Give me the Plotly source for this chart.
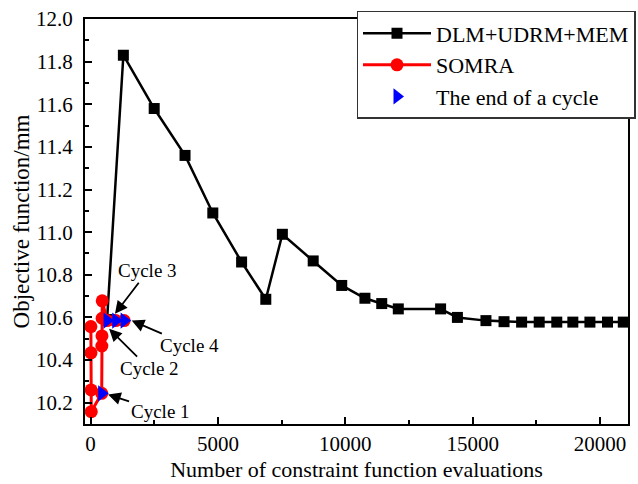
import plotly.graph_objects as go

# DLM+UDRM+MEM convergence history
dlm_evals = [650, 1290, 2500, 3710, 4800, 5930, 6880, 7530, 8740, 9860, 10770, 11430,
             12080, 13740, 14400, 15520, 16230, 16920, 17610, 18300, 18930, 19600, 20290, 20910]
dlm_obj = [10.59, 11.83, 11.58, 11.36, 11.09, 10.86, 10.685, 10.99, 10.865, 10.75, 10.69, 10.665,
           10.64, 10.64, 10.60, 10.585, 10.58, 10.578, 10.578, 10.578, 10.578, 10.578, 10.578, 10.578]

# SOMRA convergence history
somra_evals = [15, 20, 25, 30, 440, 445, 450, 455, 460, 650, 990, 1320]
somra_obj = [10.557, 10.434, 10.26, 10.158, 10.244, 10.466, 10.513, 10.596, 10.678, 10.585, 10.585, 10.585]

# End of each SOMRA cycle
cycle_evals = [440, 650, 990, 1320]
cycle_obj = [10.244, 10.585, 10.585, 10.585]
cycle_names = ["Cycle 1", "Cycle 2", "Cycle 3", "Cycle 4"]

# arrow tips and text offsets (px) for the cycle labels
cycle_tip_x = [690, 730, 960, 1617]
cycle_tip_y = [10.238, 10.547, 10.617, 10.585]
cycle_ax = [52, 40, 33, 58]
cycle_ay = [17, 40, -43, 25]

FONT = "Liberation Serif"

fig = go.Figure()
fig.add_trace(go.Scatter(
    x=dlm_evals, y=dlm_obj, mode="lines+markers", name="DLM+UDRM+MEM",
    line=dict(color="black", width=2.5),
    marker=dict(symbol="square", size=11, color="black"),
))
fig.add_trace(go.Scatter(
    x=somra_evals, y=somra_obj, mode="lines+markers", name="SOMRA",
    line=dict(color="#ff0000", width=3),
    marker=dict(symbol="circle", size=13, color="#ff0000"),
))
fig.add_trace(go.Scatter(
    x=cycle_evals, y=cycle_obj, mode="markers", name="The end of a cycle",
    marker=dict(symbol="triangle-right", size=14, color="#0000ff"),
))

for name, tx, ty, ax, ay in zip(cycle_names, cycle_tip_x, cycle_tip_y, cycle_ax, cycle_ay):
    fig.add_annotation(
        x=tx, y=ty, text=name, showarrow=True, ax=ax, ay=ay,
        arrowhead=2, arrowsize=1.4, arrowwidth=1.8, arrowcolor="black",
        font=dict(family=FONT, size=19, color="black"),
    )

fig.update_layout(
    width=638, height=484,
    margin=dict(l=85, r=10, t=19, b=60, autoexpand=False),
    paper_bgcolor="white", plot_bgcolor="white",
    font=dict(family=FONT, size=21, color="black"),
    showlegend=True,
    legend=dict(
        x=0.50, y=1.02, xanchor="left", yanchor="top",
        bgcolor="white", bordercolor="#333333", borderwidth=1.5,
        font=dict(family=FONT, size=22, color="black"),
        itemwidth=68, tracegroupgap=0,
    ),
)
fig.update_xaxes(
    range=[-216, 21095], tickvals=[0, 5000, 10000, 15000, 20000], tickformat="d",
    ticks="inside", ticklen=7, tickwidth=1.5, tickcolor="black",
    minor=dict(dtick=2500, tick0=0, ticks="inside", ticklen=4, tickwidth=1.5, tickcolor="black"),
    showline=True, linecolor="black", linewidth=2, mirror=True,
    showgrid=False, zeroline=False,
    tickfont=dict(family=FONT, size=21, color="black"),
    title=dict(text="Number of constraint function evaluations",
               font=dict(family=FONT, size=22, color="black"), standoff=6),
)
fig.update_yaxes(
    range=[10.1, 12.0], tick0=10.2, dtick=0.2, tickformat=".1f",
    ticks="inside", ticklen=7, tickwidth=1.5, tickcolor="black",
    minor=dict(dtick=0.1, tick0=10.1, ticks="inside", ticklen=4, tickwidth=1.5, tickcolor="black"),
    showline=True, linecolor="black", linewidth=2, mirror=True,
    showgrid=False, zeroline=False,
    tickfont=dict(family=FONT, size=21, color="black"), ticklabelstandoff=6,
    title=dict(text="Objective function/mm", font=dict(family=FONT, size=23, color="black"), standoff=0),
)

fig.write_html("out.html")
